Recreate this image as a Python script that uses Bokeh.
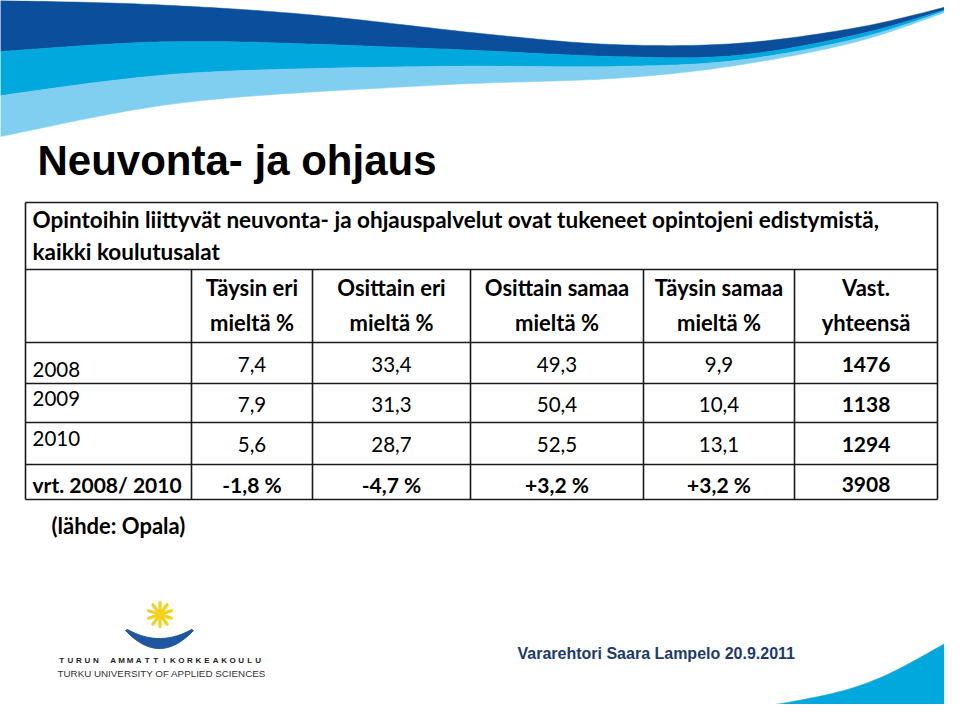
import numpy as np
from bokeh.plotting import figure
from bokeh.models import Range1d, ColumnDataSource
from bokeh.core.properties import value
from bokeh.embed import file_html
from bokeh.resources import INLINE

# ---------------- data ----------------
title = "Neuvonta- ja ohjaus"
question_lines = [
    "Opintoihin liittyvät neuvonta- ja ohjauspalvelut ovat tukeneet opintojeni edistymistä,",
    "kaikki koulutusalat",
]
header_line1 = ["Täysin eri", "Osittain eri", "Osittain samaa", "Täysin samaa", "Vast."]
header_line2 = ["mieltä %", "mieltä %", "mieltä %", "mieltä %", "yhteensä"]
years = ["2008", "2009", "2010"]
compare_label = "vrt. 2008/ 2010"
taysin_eri = [7.4, 7.9, 5.6]
osittain_eri = [33.4, 31.3, 28.7]
osittain_samaa = [49.3, 50.4, 52.5]
taysin_samaa = [9.9, 10.4, 13.1]
vastaajat = [1476, 1138, 1294]
source_note = "(lähde: Opala)"
footer_text = "Vararehtori Saara Lampelo 20.9.2011"
logo_line1 = "TURUN AMMATTIKORKEAKOULU"
logo_line2 = "TURKU UNIVERSITY OF APPLIED SCIENCES"

# ---------------- helpers ----------------
def fi(v):
    return f"{v:.1f}".replace(".", ",")

def fi_change(v):
    return f"{v:+.1f} %".replace(".", ",")

def bl(y, size):
    # correct alphabetic baseline offset of the svg backend
    return y - 0.38 * size

def catmull(pts, n=20):
    pts = np.asarray(pts, float)
    P = np.vstack([pts[0], pts, pts[-1]])
    out = []
    for i in range(1, len(P) - 2):
        p0, p1, p2, p3 = P[i - 1], P[i], P[i + 1], P[i + 2]
        t = np.linspace(0, 1, n, endpoint=False)[:, None]
        c = 0.5 * ((2 * p1) + (-p0 + p2) * t + (2 * p0 - 5 * p1 + 4 * p2 - p3) * t ** 2
                   + (-p0 + 3 * p1 - 3 * p2 + p3) * t ** 3)
        out.append(c)
    out.append(pts[-1][None, :])
    return np.vstack(out)

W, H = 944, 704
p = figure(width=W, height=H, x_range=Range1d(0, W), y_range=Range1d(H, 0),
           output_backend="svg", toolbar_location=None, min_border=0)
p.axis.visible = False
p.grid.visible = False
p.outline_line_color = None
p.background_fill_color = "white"
p.border_fill_color = "white"

# ---------------- top swoosh ----------------
E0 = [(0, 0), (150, 4), (306, 14), (490, 34), (612, 44), (735, 43), (857, 27), (955, 4)]
E1 = [(0, 51), (184, 41), (429, 48), (612, 56), (735, 55), (857, 34), (955, 6)]
E2 = [(0, 95), (184, 73), (429, 66), (612, 66), (735, 60), (857, 38), (955, 7)]
E3 = [(0, 136), (184, 102), (429, 85), (612, 78), (735, 65), (857, 41), (955, 8)]
bands = [(E0, E1, "#0b4f9c"), (E1, E2, "#00a8de"), (E2, E3, "#80cff0")]
for top, bot, col in bands:
    a = catmull(top)
    b = catmull(bot)[::-1]
    poly = np.vstack([a, b])
    p.patch(poly[:, 0], poly[:, 1], fill_color=col, line_color=col, line_width=0.5)

# ---------------- bottom-right swoosh ----------------
BR = [(540, 720), (557, 717), (713, 711), (813, 697), (880, 677), (955, 637)]
br = catmull(BR)
br = np.vstack([br, [(955, 720)]])
p.patch(br[:, 0], br[:, 1], fill_color="#00a8de", line_color="#00a8de", line_width=0.5)

# ---------------- title ----------------
p.text([37], [bl(176, 42)], text=[title], text_font=value("Liberation Sans"), text_font_style="bold",
       text_font_size="42px", text_baseline="alphabetic", text_align="left", text_color="#000000")

# ---------------- table ----------------
col_edges = [25, 191, 312, 470, 643, 794, 937]
row_edges = [202, 269, 342, 383, 422, 464, 499]
x0, x1 = col_edges[0], col_edges[-1]
hx0, hx1, hy0, hy1 = [], [], [], []
for y in row_edges:
    hx0.append(x0); hx1.append(x1); hy0.append(y); hy1.append(y)
p.segment(hx0, hy0, hx1, hy1, line_color="#1a1a1a", line_width=1.6)
vx = [x0, x1] + col_edges[1:-1]
vy0 = [row_edges[0], row_edges[0]] + [row_edges[1]] * (len(col_edges) - 2)
vy1 = [row_edges[-1]] * len(vx)
p.segment(vx, vy0, vx, vy1, line_color="#1a1a1a", line_width=1.6)

FONT = value("Lato")
# question lines
QS = 22.5
p.text([32, 32], [bl(228, QS), bl(260, QS)], text=question_lines, text_font=FONT, text_font_style="bold",
       text_font_size=f"{QS}px", text_baseline="alphabetic", text_align="left", text_color="#000000")

# column headers
HS = 22
centers = [(col_edges[i] + col_edges[i + 1]) / 2 for i in range(1, len(col_edges) - 1)]
p.text(centers, [bl(295, HS)] * 5, text=header_line1, text_font=FONT, text_font_style="bold",
       text_font_size=f"{HS}px", text_baseline="alphabetic", text_align="center", text_color="#000000")
p.text(centers, [bl(330, HS)] * 5, text=header_line2, text_font=FONT, text_font_style="bold",
       text_font_size=f"{HS}px", text_baseline="alphabetic", text_align="center", text_color="#000000")

NS = 20.5
BS = 21
# row labels
label_base = [377, 406, 446]
p.text([32] * 3, [bl(v, NS) for v in label_base], text=years, text_font=FONT, text_font_size=f"{NS}px",
       text_baseline="alphabetic", text_align="left", text_color="#000000")
p.text([32], [bl(492, BS)], text=[compare_label], text_font=FONT, text_font_style="bold",
       text_font_size=f"{BS}px", text_baseline="alphabetic", text_align="left", text_color="#000000")

# values
value_base = [372, 412, 452]
series = [taysin_eri, osittain_eri, osittain_samaa, taysin_samaa]
xs, ys, ts = [], [], []
cx, cy, ct = [], [], []
for ci, s in enumerate(series):
    for ri, v in enumerate(s):
        xs.append(centers[ci]); ys.append(bl(value_base[ri], NS)); ts.append(fi(v))
    cx.append(centers[ci]); cy.append(bl(492, BS)); ct.append(fi_change(round(s[-1] - s[0], 1)))
src_vals = ColumnDataSource(dict(x=xs, y=ys, t=ts))
p.text("x", "y", text="t", source=src_vals, text_font=FONT, text_font_size=f"{NS}px",
       text_baseline="alphabetic", text_align="center", text_color="#000000")
bx = [centers[4]] * 3 + cx + [centers[4]]
by = [bl(v, BS) for v in value_base] + cy + [bl(492, BS)]
bt = [str(v) for v in vastaajat] + ct + [str(sum(vastaajat))]
src_bold = ColumnDataSource(dict(x=bx, y=by, t=bt))
p.text("x", "y", text="t", source=src_bold, text_font=FONT, text_font_style="bold",
       text_font_size=f"{BS}px", text_baseline="alphabetic", text_align="center", text_color="#000000")

# source note
SS = 22
p.text([51], [bl(533, SS)], text=[source_note], text_font=FONT, text_font_style="bold",
       text_font_size=f"{SS}px", text_baseline="alphabetic", text_align="left", text_color="#000000")

# ---------------- logo ----------------
ang = np.linspace(0, np.pi, 5, endpoint=False) + np.pi / 2
r = 12
sx, sy = 159.5, 614
p.segment(sx + r * np.cos(ang), sy + r * np.sin(ang), sx - r * np.cos(ang), sy - r * np.sin(ang),
          line_color="#f2d21b", line_width=3.2, line_cap="round")
t = np.linspace(-1, 1, 40)
outer_x = 159 + 34 * t
outer_y = 630 + 18 * (1 - t ** 2)
inner_x = (159 + 32 * t)[::-1]
inner_y = (629 + 9 * (1 - t ** 2))[::-1]
p.patch(np.concatenate([outer_x, inner_x]), np.concatenate([outer_y, inner_y]),
        fill_color="#1f56a0", line_color="#1f56a0", line_width=1)

chars = list(logo_line1)
step = (262 - 57) / len(chars)
lx = [57 + step * (i + 0.5) for i in range(len(chars))]
p.text(lx, [660] * len(chars), text=chars, text_font=value("Liberation Sans"), text_font_style="bold",
       text_font_size="8px", text_baseline="middle", text_align="center", text_color="#222222")
p.text([57], [672.5], text=[logo_line2], text_font=value("Liberation Sans"),
       text_font_size="9.8px", text_baseline="middle", text_align="left", text_color="#333333")

# ---------------- footer ----------------
p.text([517], [bl(659, 16)], text=[footer_text], text_font=value("Liberation Sans"), text_font_style="bold",
       text_font_size="16px", text_baseline="alphabetic", text_align="left", text_color="#1c3a6e")

open("out.html", "w").write(file_html(p, INLINE))
